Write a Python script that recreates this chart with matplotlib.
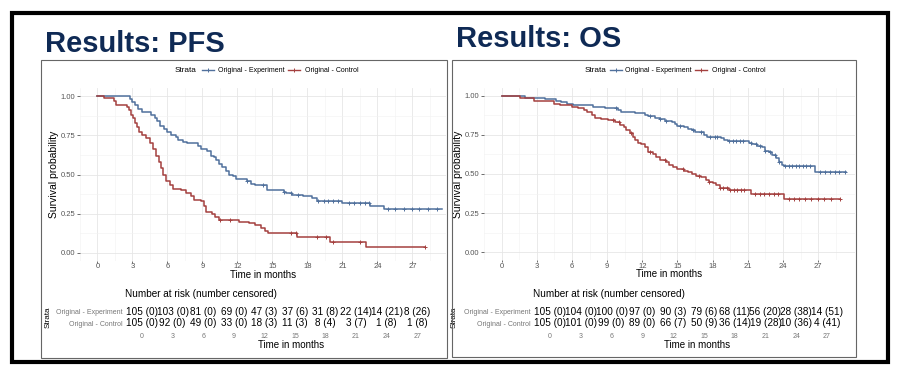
import numpy as np
import matplotlib
matplotlib.use("Agg")
import matplotlib.pyplot as plt
from matplotlib.lines import Line2D
from matplotlib.patches import Rectangle

plt.rcParams['font.family'] = ['Liberation Sans', 'DejaVu Sans']

# ---- data ----
risk_times = [0, 3, 6, 9, 12, 15, 18, 21, 24, 27]

pfs_exp_t = [0, 2.8, 3.0, 3.2, 3.5, 3.8, 4.6, 4.9, 5.1, 5.4, 5.7, 6.0, 6.3, 6.7, 6.9, 7.3, 7.7, 8.6,
             8.85, 9.4, 9.7, 10.0, 10.2, 10.45, 10.7, 11.0, 11.3, 11.6, 11.9, 12.8, 13.2, 13.5, 14.5,
             16.0, 16.2, 16.7, 17.6, 18.4, 18.8, 21.0, 23.4, 24.6, 29.5]
pfs_exp_s = [1.00, 0.98, 0.96, 0.94, 0.92, 0.90, 0.88, 0.86, 0.84, 0.81, 0.79, 0.77, 0.75, 0.74,
             0.72, 0.71, 0.70, 0.68, 0.66, 0.65, 0.62, 0.61, 0.59, 0.57, 0.55, 0.52, 0.50, 0.49,
             0.47, 0.46, 0.44, 0.43, 0.40, 0.39, 0.38, 0.37, 0.36, 0.35, 0.33, 0.32, 0.30, 0.28, 0.28]
pfs_exp_cens = [12.8, 14.2, 16.0, 16.6, 17.2, 18.9, 19.4, 19.8, 20.2, 20.6, 21.6, 22.0, 22.5,
                22.9, 23.3, 24.9, 25.5, 26.3, 27.0, 27.6, 28.3, 29.1]

pfs_ctl_t = [0, 0.55, 1.4, 1.55, 2.5, 2.7, 2.85, 3.05, 3.2, 3.4, 3.55, 3.8, 4.2, 4.5, 4.8, 5.0, 5.3,
             5.45, 5.6, 5.9, 6.2, 6.45, 7.2, 7.6, 8.0, 8.3, 8.85, 9.1, 9.3, 9.8, 10.1, 10.4, 12.1,
             13.0, 13.5, 14.0, 14.4, 14.6, 17.1, 19.9, 23.0, 28.1]
pfs_ctl_s = [1.00, 0.99, 0.97, 0.94, 0.93, 0.91, 0.88, 0.86, 0.83, 0.80, 0.77, 0.75, 0.73, 0.70,
             0.66, 0.62, 0.58, 0.54, 0.50, 0.46, 0.43, 0.41, 0.40, 0.38, 0.36, 0.34, 0.33, 0.30,
             0.26, 0.25, 0.23, 0.21, 0.20, 0.19, 0.18, 0.16, 0.14, 0.125, 0.104, 0.072, 0.04, 0.04]
pfs_ctl_cens = [10.5, 11.4, 16.6, 17.0, 18.8, 19.6, 20.2, 22.5, 28.1]

os_exp_t = [0, 2.0, 3.7, 4.6, 5.1, 5.6, 6.1, 7.8, 8.8, 9.95, 10.2, 11.4, 12.2, 12.5, 13.1, 13.5,
            13.9, 14.5, 14.8, 15.0, 15.6, 15.9, 16.2, 16.5, 17.3, 17.5, 18.7, 19.0, 19.3, 21.1,
            21.4, 21.8, 22.25, 22.5, 22.8, 23.1, 23.4, 23.65, 23.95, 24.1, 26.7, 29.4]
os_exp_s = [1.00, 0.99, 0.98, 0.97, 0.96, 0.95, 0.94, 0.93, 0.92, 0.91, 0.90, 0.89, 0.88, 0.87,
            0.86, 0.85, 0.84, 0.83, 0.82, 0.81, 0.80, 0.79, 0.78, 0.77, 0.75, 0.74, 0.73, 0.72,
            0.71, 0.70, 0.69, 0.68, 0.67, 0.65, 0.64, 0.62, 0.60, 0.58, 0.56, 0.55, 0.515, 0.515]
os_exp_cens = [9.8, 12.7, 13.5, 14.0, 15.2, 16.3, 17.0, 17.8, 18.2, 18.4, 19.4, 19.7, 20.0, 20.3,
               20.6, 21.3, 21.7, 22.0, 22.5, 22.9, 23.3, 23.7, 24.2, 24.5, 24.8, 25.1, 25.4, 25.7,
               26.0, 26.3, 27.2, 27.6, 28.0, 28.4, 28.8, 29.3]

os_ctl_t = [0, 1.6, 2.75, 4.45, 5.0, 6.0, 6.55, 7.0, 7.3, 7.7, 8.0, 8.5, 9.1, 9.7, 10.1, 10.4,
            10.65, 10.95, 11.2, 11.4, 11.65, 11.9, 12.2, 12.5, 12.9, 13.2, 13.5, 14.05, 14.3, 14.6,
            15.0, 15.6, 15.9, 16.2, 16.6, 17.0, 17.45, 17.7, 18.0, 18.3, 18.6, 19.4, 21.3, 24.1, 28.9]
os_ctl_s = [1.00, 0.99, 0.965, 0.95, 0.94, 0.93, 0.92, 0.91, 0.90, 0.88, 0.86, 0.855, 0.845, 0.835,
            0.815, 0.80, 0.78, 0.76, 0.74, 0.72, 0.70, 0.69, 0.67, 0.64, 0.63, 0.61, 0.59, 0.58,
            0.56, 0.545, 0.53, 0.52, 0.51, 0.50, 0.49, 0.48, 0.46, 0.45, 0.44, 0.43, 0.41, 0.40,
            0.375, 0.34, 0.34]
os_ctl_cens = [9.5, 10.0, 11.0, 12.7, 13.9, 15.5, 16.8, 17.7, 18.6, 18.9, 19.2, 19.5, 19.8, 20.1,
               20.4, 20.7, 21.6, 22.0, 22.4, 22.8, 23.2, 23.6, 24.5, 24.9, 25.4, 25.9, 26.4, 27.0,
               27.5, 28.1, 28.9]

pfs_exp_risk = [105, 103, 81, 69, 47, 37, 31, 22, 14, 8]
pfs_exp_nc = [0, 0, 0, 0, 3, 6, 8, 14, 21, 26]
pfs_ctl_risk = [105, 92, 49, 33, 18, 11, 8, 3, 1, 1]
pfs_ctl_nc = [0, 0, 0, 0, 3, 3, 4, 7, 8, 8]
os_exp_risk = [105, 104, 100, 97, 90, 79, 68, 56, 28, 14]
os_exp_nc = [0, 0, 0, 0, 3, 6, 11, 20, 38, 51]
os_ctl_risk = [105, 101, 99, 89, 66, 50, 36, 19, 10, 4]
os_ctl_nc = [0, 0, 0, 0, 7, 9, 14, 28, 36, 41]

strata = ["Original - Experiment", "Original - Control"]
BLUE = "#50709c"
RED = "#a4403f"
NAVY = "#0f2a55"

W, H = 900, 376
fig = plt.figure(figsize=(W / 100, H / 100), dpi=100)


def px_axes(l, t, r, b):
    return fig.add_axes([l / W, 1 - b / H, (r - l) / W, (b - t) / H])


def fx(x):
    return x / W


def fy(y):
    return 1 - y / H


def km_plot(ax, curves, xlim):
    for t, s, cens, col in curves:
        ax.step(t, s, where="post", color=col, lw=1.1)
        idx = np.searchsorted(t, cens, side="right") - 1
        ax.plot(cens, np.array(s)[idx], ls="none", marker="+", ms=3.5, mew=0.7, color=col)
    ax.set_xlim(*xlim)
    ax.set_ylim(-0.051, 1.051)
    ax.set_xticks(risk_times)
    ax.set_xticks(np.arange(-1.5, 30, 3), minor=True)
    ax.set_yticks([0, 0.25, 0.5, 0.75, 1.0])
    ax.set_yticklabels(["0.00", "0.25", "0.50", "0.75", "1.00"])
    ax.set_yticks([0.125, 0.375, 0.625, 0.875], minor=True)
    ax.grid(True, which="major", color="#e6e6e6", lw=0.6)
    ax.grid(True, which="minor", color="#f2f2f2", lw=0.4)
    ax.set_axisbelow(True)
    for sp in ax.spines.values():
        sp.set_visible(False)
    ax.tick_params(which="major", length=2, width=0.5, color="#333333", labelsize=5.5,
                   labelcolor="#555555", pad=1.5)
    ax.tick_params(axis="x", which="major", length=1.5, pad=0.3)
    ax.tick_params(which="minor", length=0)
    ax.set_ylabel("Survival probability", fontsize=7.5, labelpad=1)
    ax.set_xlabel("Time in months", fontsize=7, labelpad=-0.3)


def risk_table(ax, xlim, rows, label_x):
    ax.set_xlim(*xlim)
    ax.set_ylim(1.636, -0.636)
    for i, (risk, nc) in enumerate(rows):
        for t, r, c in zip(risk_times, risk, nc):
            ax.text(t, i, "%d (%d)" % (r, c), ha="center", va="center", fontsize=7.2)
    ax.set_xticks(risk_times)
    ax.set_yticks([0, 1])
    ax.set_yticklabels(strata, fontsize=5)
    for lab, col in zip(ax.get_yticklabels(), [BLUE, RED]):
        lab.set_color(col)
    for sp in ax.spines.values():
        sp.set_visible(False)
    ax.tick_params(length=0, labelsize=5, labelcolor="#777777", pad=2)
    ax.tick_params(axis="y", pad=2)
    ax.set_xlabel("Time in months", fontsize=7, labelpad=0)
    ax.set_ylabel("Strata", fontsize=5.8)
    ax.yaxis.set_label_coords(label_x, 0.5)
    ax.set_title("Number at risk (number censored)", loc="left", fontsize=7.2, pad=6)


def legend(x_strata, x_items, y):
    fig.text(fx(x_strata), fy(y), "Strata", fontsize=5.9, va="center")
    for (x0, xt), col, lab in zip(x_items, [BLUE, RED], strata):
        fig.add_artist(Line2D([fx(x0), fx(x0 + 12)], [fy(y), fy(y)], color=col, lw=1.0,
                              transform=fig.transFigure))
        fig.add_artist(Line2D([fx(x0 + 6)], [fy(y)], color=col, marker="+", ms=3.5, mew=0.7,
                              transform=fig.transFigure))
        fig.text(fx(xt), fy(y), lab, fontsize=5, va="center")


# outer slide border and panel frames
fig.add_artist(Rectangle((fx(12), fy(362)), fx(876), 349 / H, fill=False, ec="black", lw=3,
                         transform=fig.transFigure))
fig.add_artist(Rectangle((fx(41), fy(358)), fx(406), 298 / H, fill=False, ec="#666666", lw=0.8,
                         transform=fig.transFigure))
fig.add_artist(Rectangle((fx(452), fy(357)), fx(404), 297 / H, fill=False, ec="#666666", lw=0.8,
                         transform=fig.transFigure))

fig.text(fx(45), fy(52), "Results: PFS", fontsize=21, fontweight="bold", color=NAVY)
fig.text(fx(456), fy(47), "Results: OS", fontsize=21, fontweight="bold", color=NAVY)

legend(175, [(202, 218), (288, 305)], 70)
legend(585, [(610, 625), (695, 712)], 70)

# PFS
ax1 = px_axes(80, 88, 446, 261)
km_plot(ax1, [(pfs_exp_t, pfs_exp_s, pfs_exp_cens, BLUE),
              (pfs_ctl_t, pfs_ctl_s, pfs_ctl_cens, RED)],
        ((80 - 92) / 11.85, (446 - 92) / 11.85))
rt1 = px_axes(125, 305, 457, 330)
risk_table(rt1, ((125 - 142) / 10.19, (457 - 142) / 10.19),
           [(pfs_exp_risk, pfs_exp_nc), (pfs_ctl_risk, pfs_ctl_nc)], (52 - 125) / 332)

# OS
ax2 = px_axes(484, 88, 855, 260)
km_plot(ax2, [(os_exp_t, os_exp_s, os_exp_cens, BLUE),
              (os_ctl_t, os_ctl_s, os_ctl_cens, RED)],
        ((484 - 499) / 11.81, (855 - 499) / 11.81))
rt2 = px_axes(533, 305, 861, 330)
risk_table(rt2, ((533 - 550) / 10.26, (861 - 550) / 10.26),
           [(os_exp_risk, os_exp_nc), (os_ctl_risk, os_ctl_nc)], (458 - 533) / 328)

fig.savefig("out.png", dpi=100)
